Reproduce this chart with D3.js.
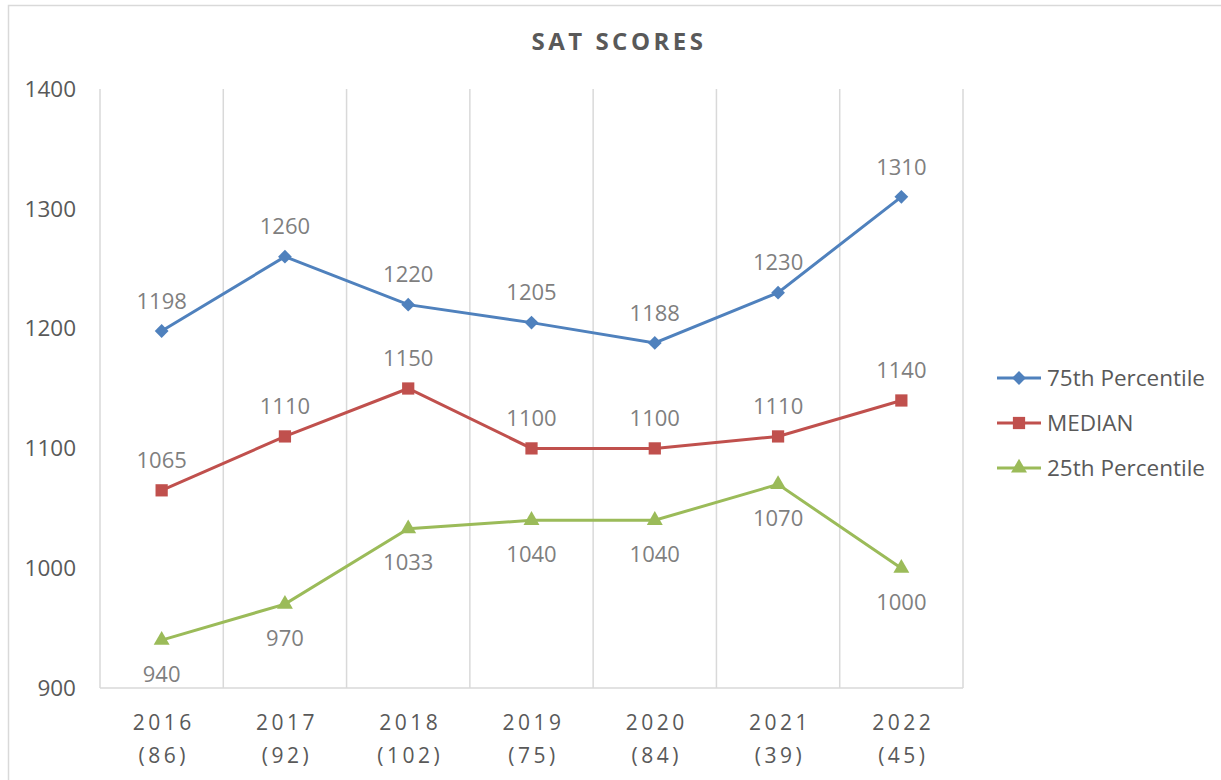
<!DOCTYPE html>
<html>
<head>
<script src="https://d3js.org/d3.v7.min.js"></script>
<style>
  body { margin: 0; background: #fff; }
  text { font-family: "Open Sans", "Noto Sans", sans-serif; }
</style>
</head>
<body>
<svg id="chart" width="1221" height="780"></svg>
<script>
// data
var years = ["2016", "2017", "2018", "2019", "2020", "2021", "2022"];
var counts = ["(86)", "(92)", "(102)", "(75)", "(84)", "(39)", "(45)"];
var p75 = [1198, 1260, 1220, 1205, 1188, 1230, 1310];
var median = [1065, 1110, 1150, 1100, 1100, 1110, 1140];
var p25 = [940, 970, 1033, 1040, 1040, 1070, 1000];
var yTicks = [900, 1000, 1100, 1200, 1300, 1400];

var series = [
    {name: "75th Percentile", values: p75, color: "#4f81bd", symbol: d3.symbolSquare, size: 95, rotate: 45, labelDy: -30},
    {name: "MEDIAN", values: median, color: "#c0504d", symbol: d3.symbolSquare, size: 150, rotate: 0, labelDy: -30},
    {name: "25th Percentile", values: p25, color: "#9bbb59", symbol: d3.symbolTriangle, size: 110, rotate: 0, labelDy: 34}
];

var svg = d3.select("#chart");
var plotLeft = 100, plotRight = 963, plotTop = 89, plotBottom = 688;

// outer frame
svg.append("rect")
    .attr("x", 8.5).attr("y", 5.5)
    .attr("width", 1230).attr("height", 800)
    .attr("fill", "none").attr("stroke", "#d9d9d9").attr("stroke-width", 1.5);

svg.append("text")
    .attr("x", 619).attr("y", 50)
    .attr("text-anchor", "middle")
    .attr("fill", "#595959")
    .style("font-size", "24px").style("font-weight", "bold").style("letter-spacing", "3.5px")
    .text("SAT SCORES");

var x = d3.scaleBand().domain(years).range([plotLeft, plotRight]);
var y = d3.scaleLinear().domain([900, 1400]).range([plotBottom, plotTop]);

// vertical grid lines at category boundaries
var bounds = years.map(function(d) { return x(d); }).concat([plotRight]);
svg.selectAll(".grid")
    .data(bounds)
    .enter().append("line")
    .attr("x1", function(d) { return d; })
    .attr("x2", function(d) { return d; })
    .attr("y1", plotTop).attr("y2", plotBottom)
    .attr("stroke", "#d9d9d9").attr("stroke-width", 1.5);

svg.append("line")
    .attr("x1", plotLeft).attr("x2", plotRight)
    .attr("y1", plotBottom).attr("y2", plotBottom)
    .attr("stroke", "#d9d9d9").attr("stroke-width", 1.5);

// y tick labels
svg.selectAll(".ytick")
    .data(yTicks)
    .enter().append("text")
    .attr("x", 76)
    .attr("y", function(d) { return y(d); })
    .attr("dy", "0.35em")
    .attr("text-anchor", "end")
    .attr("fill", "#595959")
    .style("font-size", "22.5px")
    .text(function(d) { return d; });

// x labels, two lines
var xl = svg.selectAll(".xlab")
    .data(years)
    .enter().append("text")
    .attr("text-anchor", "middle")
    .attr("fill", "#595959")
    .style("font-size", "21px").style("letter-spacing", "3.5px");
xl.append("tspan")
    .attr("x", function(d) { return x(d) + x.bandwidth() / 2 + 2; })
    .attr("y", 730)
    .text(function(d) { return d; });
xl.append("tspan")
    .attr("x", function(d) { return x(d) + x.bandwidth() / 2 + 2; })
    .attr("y", 763)
    .text(function(d, i) { return counts[i]; });

var line = d3.line()
    .x(function(d, i) { return x(years[i]) + x.bandwidth() / 2; })
    .y(function(d) { return y(d); });

series.forEach(function(s) {
    svg.append("path")
        .datum(s.values)
        .attr("fill", "none")
        .attr("stroke", s.color)
        .attr("stroke-width", 3)
        .attr("d", line);

    svg.selectAll(null)
        .data(s.values)
        .enter().append("path")
        .attr("transform", function(d, i) {
            return "translate(" + (x(years[i]) + x.bandwidth() / 2) + "," + y(d) + ") rotate(" + s.rotate + ")";
        })
        .attr("d", d3.symbol().type(s.symbol).size(s.size))
        .attr("fill", s.color);

    svg.selectAll(null)
        .data(s.values)
        .enter().append("text")
        .attr("x", function(d, i) { return x(years[i]) + x.bandwidth() / 2; })
        .attr("y", function(d) { return y(d) + s.labelDy; })
        .attr("dy", "0.35em")
        .attr("text-anchor", "middle")
        .attr("fill", "#7f7f7f")
        .style("font-size", "22px")
        .text(function(d) { return d; });
});

// legend
var legend = svg.selectAll(".legend")
    .data(series)
    .enter().append("g")
    .attr("transform", function(d, i) { return "translate(997," + (378 + i * 45) + ")"; });
legend.append("line")
    .attr("x1", 0).attr("x2", 44)
    .attr("stroke", function(d) { return d.color; })
    .attr("stroke-width", 3);
legend.append("path")
    .attr("transform", function(d) { return "translate(22,0) rotate(" + d.rotate + ")"; })
    .attr("d", function(d) { return d3.symbol().type(d.symbol).size(d.size)(); })
    .attr("fill", function(d) { return d.color; });
legend.append("text")
    .attr("x", 50)
    .attr("dy", "0.35em")
    .attr("fill", "#595959")
    .style("font-size", "22.5px")
    .text(function(d) { return d.name; });
</script>
</body>
</html>
